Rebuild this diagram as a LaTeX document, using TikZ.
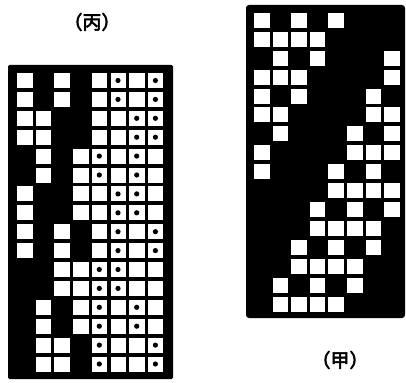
\documentclass[tikz,border=0pt]{standalone}
\usepackage{fontspec}
\newfontfamily\cjk{Noto Sans CJK SC}[FakeBold=3]
\tikzset{
  panel/.style={fill=black},
  cellw/.style={fill=white},
  dotmark/.style={fill=black},
  caption/.style={font=\cjk\fontsize{19}{21}\selectfont, inner sep=0pt}
}
\begin{document}
\begin{tikzpicture}[x=1pt,y=-1pt]
\useasboundingbox (0,0) rectangle (406,382);
% left panel (丙)
\fill[panel,rounded corners=1.5pt] (8,65) rectangle (173,379);
\foreach \row [count=\j] in {
 {1,0,1,0,1,2,1,2},{1,0,1,0,1,2,1,2},
 {1,1,0,0,1,1,2,2},{1,1,0,0,1,1,2,2},
 {0,1,0,1,2,1,2,1},{0,1,0,1,2,1,2,1},
 {1,0,0,1,1,2,2,1},{1,0,0,1,1,2,2,1},
 {1,0,1,0,1,2,1,2},{1,0,1,0,1,2,1,2},
 {0,0,1,1,2,2,1,1},{0,0,1,1,2,2,1,1},
 {0,1,0,1,2,1,2,1},{0,1,0,1,2,1,2,1},
 {0,1,1,0,2,1,1,2},{0,1,1,0,2,1,1,2}}{
  \foreach \c [count=\i] in \row {
    \ifnum\c>0
      \fill[cellw] ({17+(\i-1)*18.7},{73+(\j-1)*18.9}) rectangle ++(15.5,15);
    \fi
    \ifnum\c=2
      \fill[dotmark] ({17+(\i-1)*18.7+7.5},{73+(\j-1)*18.9+7.5}) circle (2.6);
    \fi
  }
}
% right panel (甲)
\fill[panel,rounded corners=3pt] (246,5) rectangle (405,318);
\foreach \row [count=\j] in {
 {1,0,1,0,1,0,0,0},{1,1,1,1,0,0,0,0},
 {0,1,0,1,0,0,0,1},{1,1,1,0,0,0,0,1},
 {1,0,1,0,0,0,1,0},{1,1,0,0,0,0,1,1},
 {0,1,0,0,0,1,0,1},{1,0,0,0,0,1,1,1},
 {1,0,0,0,1,0,1,0},{0,0,0,0,1,1,1,1},
 {0,0,0,1,0,1,0,1},{0,0,0,1,1,1,1,0},
 {0,0,1,0,1,0,1,0},{0,0,1,1,1,1,0,0},
 {0,1,0,1,0,1,0,0},{0,1,1,1,1,0,0,0}}{
  \foreach \c [count=\i] in \row {
    \ifnum\c>0
      \fill[cellw] ({254+(\i-1)*18.6},{13+(\j-1)*18.9}) rectangle ++(15.5,15);
    \fi
  }
}
\node[caption] (bing) at (92,22) {（丙）};
\node[caption] (jia) at (340,360) {（甲）};
\end{tikzpicture}
\end{document}
